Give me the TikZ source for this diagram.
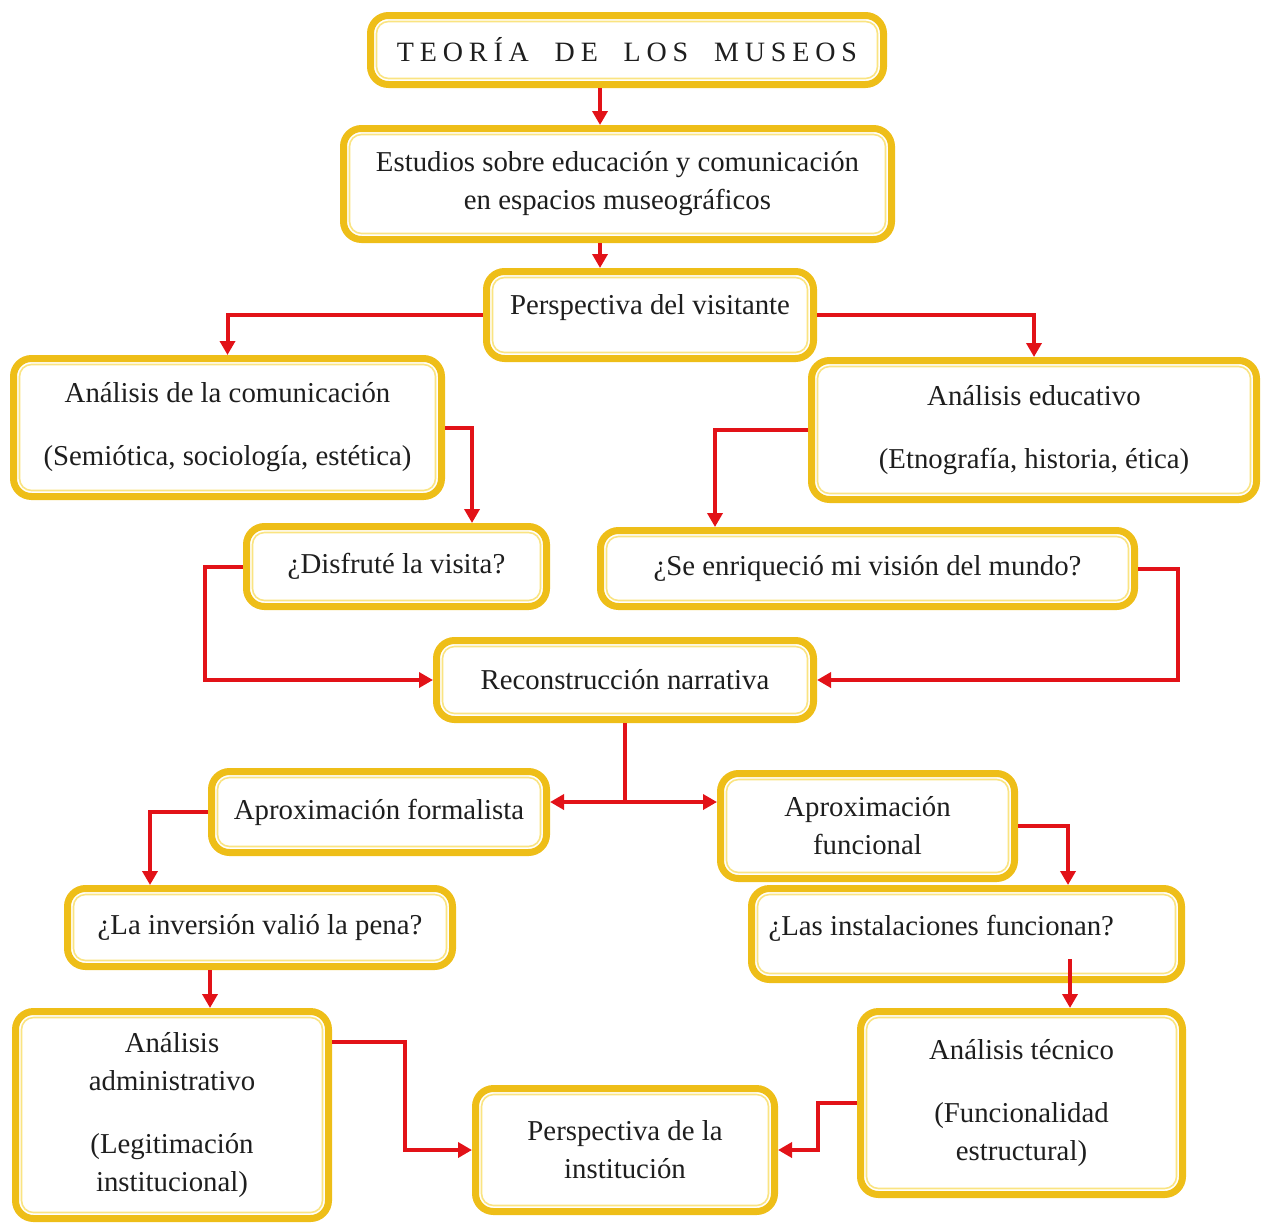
\documentclass[tikz,border=0pt]{standalone}
\usepackage{fontspec}
\setmainfont{Liberation Serif}
\newfontfamily\titlefont[LetterSpace=21]{Liberation Serif}
\usetikzlibrary{arrows.meta,calc}
\definecolor{gold}{RGB}{238,190,24}
\definecolor{paleline}{RGB}{250,228,130}
\definecolor{redc}{RGB}{226,18,24}
\definecolor{txt}{RGB}{30,30,30}
\begin{document}
\begin{tikzpicture}[x=0.5pt,y=-0.5pt,
  box/.style={draw=gold, line width=3.5pt, rounded corners=9pt, fill=white,
    align=center, inner sep=2pt, text=txt,
    font=\fontsize{14.4}{19}\selectfont,
    path picture={\draw[paleline, line width=0.8pt, rounded corners=6pt]
      ([shift={(3pt,-3pt)}]path picture bounding box.north west) rectangle
      ([shift={(-3pt,3pt)}]path picture bounding box.south east);}},
  arr/.style={draw=redc, line width=2pt, -{Triangle[length=7pt,width=7.5pt]}},
  ln/.style={draw=redc, line width=2pt}]
\useasboundingbox (0,0) rectangle (1262,1226);

\node[box, minimum width=256.5pt, minimum height=34.5pt] (tit) at (627,50)
  {\titlefont\fontsize{14}{16}\selectfont TEORÍA\ \ DE\ \ LOS\ \ MUSEOS};
\node[box, minimum width=274pt, minimum height=55.5pt] (est) at (617.5,184)
  {Estudios sobre educación y comunicación\\en espacios museográficos};
\node[box, minimum width=163.5pt, minimum height=43.5pt, text depth=10pt] (vis) at (650,315)
  {Perspectiva del visitante};
\node[box, minimum width=214pt, minimum height=69pt] (com) at (227.5,427.5)
  {Análisis de la comunicación\\[12.5pt](Semiótica, sociología, estética)};
\node[box, minimum width=222.5pt, minimum height=69.5pt] (edu) at (1034,430)
  {Análisis educativo\\[12.5pt](Etnografía, historia, ética)};
\node[box, minimum width=150pt, minimum height=40pt] (dis) at (396.5,566.5)
  {¿Disfruté la visita?};
\node[box, minimum width=267pt, minimum height=38pt] (enr) at (867.5,568.5)
  {¿Se enriqueció mi visión del mundo?};
\node[box, minimum width=188.5pt, minimum height=39.5pt] (rec) at (625,680)
  {Reconstrucción narrativa};
\node[box, minimum width=167.5pt, minimum height=40.5pt] (form) at (379,812)
  {Aproximación formalista};
\node[box, minimum width=147pt, minimum height=52.5pt] (fun) at (867.5,826)
  {Aproximación\\funcional};
\node[box, minimum width=192.5pt, minimum height=39pt] (inv) at (260,927.5)
  {¿La inversión valió la pena?};
\node[box, minimum width=215pt, minimum height=45.5pt, text width=198pt, align=flush left, text depth=9pt] (ins) at (966.5,934)
  {¿Las instalaciones funcionan?};
\node[box, minimum width=156.5pt, minimum height=103.5pt] (adm) at (172,1115)
  {Análisis\\administrativo\\[12.5pt](Legitimación\\institucional)};
\node[box, minimum width=149.5pt, minimum height=61.5pt] (inst) at (625,1150)
  {Perspectiva de la\\institución};
\node[box, minimum width=161pt, minimum height=91.5pt] (tec) at (1021.5,1103)
  {Análisis técnico\\[12.5pt](Funcionalidad\\estructural)};

% connectors
\draw[arr] ([xshift=-13.5pt]tit.south) -- ([xshift=-13.5pt]tit.south |- est.north);
\draw[arr] ([xshift=-8.75pt]est.south) -- ([xshift=-8.75pt]est.south |- vis.north);
\draw[arr] (vis.west) -| (com.north);
\draw[arr] (vis.east) -| (edu.north);
\draw[arr] (com.east) -| ([xshift=37.75pt]dis.north);
\draw[arr] (edu.west) -| ([xshift=-76.25pt]enr.north);
\draw[arr] (dis.west) -- ++(-19pt,0) |- (rec.west);
\draw[arr] (enr.east) -- ++(20pt,0) |- (rec.east);
\draw[ln] (rec.south) -- ++(0,-39.5pt) coordinate (split);
\draw[arr] (split) -- (split -| form.east);
\draw[arr] (split) -- (split -| fun.west);
\draw[arr] (form.west) -- ++(-29pt,0) -| ([xshift=-55pt]inv.north);
\draw[arr] (fun.east) -| ([xshift=50.75pt]ins.north);
\draw[arr] ([xshift=-25pt]inv.south) -- ([xshift=-25pt]inv.south |- adm.north);
\draw[arr] ([xshift=51.75pt,yshift=12pt]ins.south) -- ([xshift=51.75pt]ins.south |- tec.north);
\draw[arr] ([yshift=36.5pt]adm.east) -- ++(36.5pt,0) |- (inst.west);
\draw[arr] (tec.west) -- ++(-19.5pt,0) |- (inst.east);
\end{tikzpicture}
\end{document}
